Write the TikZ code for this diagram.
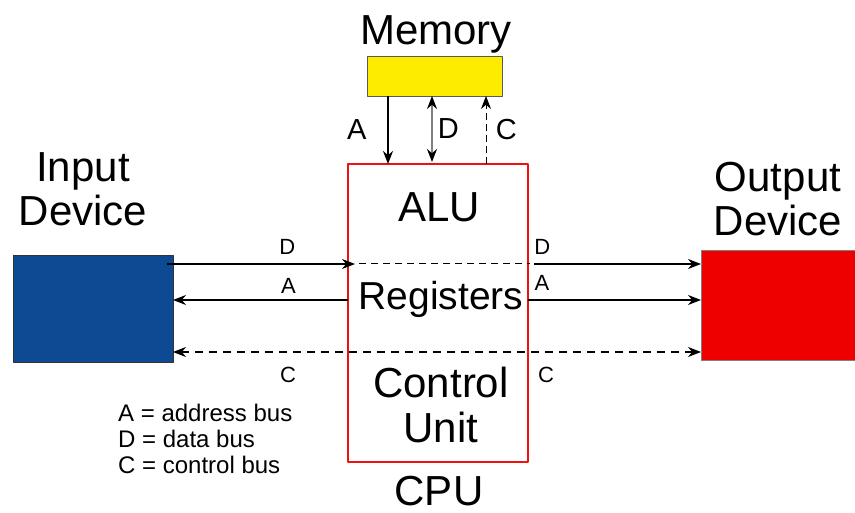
\documentclass[tikz,border=0pt]{standalone}
\usepackage{fontspec}
\setmainfont{Liberation Sans}
\usetikzlibrary{arrows.meta}
\definecolor{memyellow}{HTML}{FDEC00}
\definecolor{inblue}{HTML}{0E4A94}
\definecolor{outred}{HTML}{EE0000}
\definecolor{cpured}{HTML}{EE1111}
\begin{document}
\begin{tikzpicture}[x=1pt, y=-1pt, line join=round, >={Stealth[length=13pt, width=10pt]},
	big/.style={font=\fontsize{42}{44}\selectfont, align=center, anchor=base, inner sep=0pt},
	lbl/.style={font=\fontsize{22}{24}\selectfont},
	mlbl/.style={font=\fontsize{29}{30}\selectfont},
	legend/.style={font=\fontsize{24}{26}\selectfont, align=left, anchor=base west, inner sep=0pt},
	box/.style={minimum width=#1, inner sep=0pt, outer sep=0pt, anchor=north west},
	bus/.style={line width=1.6pt},
	ctl/.style={line width=1.2pt, dash pattern=on 8pt off 6pt}]
	\useasboundingbox (0,0) rectangle (855,513);
	% boxes
	\node[box=135pt, minimum height=40pt, draw=gray!70!black, fill=memyellow] (mem) at (367,56) {};
	\node[box=160pt, minimum height=107pt, draw=black!80, fill=inblue] (inp) at (13,255) {};
	\node[box=156pt, minimum height=110pt, draw=gray, fill=outred] (out) at (701,250) {};
	\node[box=180pt, minimum height=298pt, draw=cpured, line width=2pt] (cpu) at (348,164) {};
	% texts (base of a two-line text is its last line)
	\node[big] (memtxt) at (436,45) {Memory};
	\node[big] (intxt) at (83,226) {Input\\Device};
	\node[big] (outtxt) at (778,236) {Output\\Device};
	\node[big] (alu) at (439,222) {ALU};
	\node[big, font=\fontsize{39}{44}\selectfont] (reg) at (441,310) {Registers};
	\node[big] (cu) at (441,442) {Control\\Unit};
	\node[big] (cputxt) at (439,505) {CPU};
	\node[legend] (key) at (118,473) {A = address bus\\D = data bus\\C = control bus};
	% rows and columns of the buses
	\coordinate (rowD) at (0,264);
	\coordinate (rowA) at (0,300);
	\coordinate (rowC) at (0,352);
	\coordinate (colA) at (388,0);
	\coordinate (colD) at (432,0);
	\coordinate (colC) at (486,0);
	% memory buses
	\draw[line width=2.6pt, ->] (mem.south -| colA) -- (cpu.north -| colA) node[midway, left=17pt, mlbl] {A};
	\draw[gray, line width=1.2pt, {Stealth[length=13pt, width=10pt, color=black]}-{Stealth[length=13pt, width=10pt, color=black]}]
		(mem.south -| colD) -- ([yshift=2pt]cpu.north -| colD) node[midway, right=2pt, mlbl, black] {D};
	\draw[line width=1pt, dash pattern=on 7pt off 4pt, ->] (cpu.north -| colC) -- (mem.south -| colC) node[midway, right=6pt, mlbl] {C};
	% input side
	\draw[bus, ->] ([xshift=-6pt]inp.east |- rowD) -- ([xshift=7pt]cpu.west |- rowD) node[pos=0.64, above=5pt, lbl] (dl) {D};
	\draw[line width=1pt, dash pattern=on 7pt off 5pt] ([xshift=11pt]cpu.west |- rowD) -- ([xshift=2pt]cpu.east |- rowD);
	\draw[bus, ->] (cpu.west |- rowA) -- (inp.east |- rowA) node[pos=0.34, above=2pt, lbl] (al) {A};
	% output side
	\draw[bus, ->] ([xshift=6pt]cpu.east |- rowD) -- (out.west |- rowD) node[pos=0.05, above=5pt, lbl] (dr) {D};
	\draw[bus, ->] (cpu.east |- rowA) -- (out.west |- rowA) node[pos=0.08, above=5pt, lbl] (ar) {A};
	% control bus
	\draw[ctl, <->] (inp.east |- rowC) -- (out.west |- rowC);
	\node[lbl] (cl) at (288,375) {C};
	\node[lbl] (cr) at (546,375) {C};
\end{tikzpicture}
\end{document}
